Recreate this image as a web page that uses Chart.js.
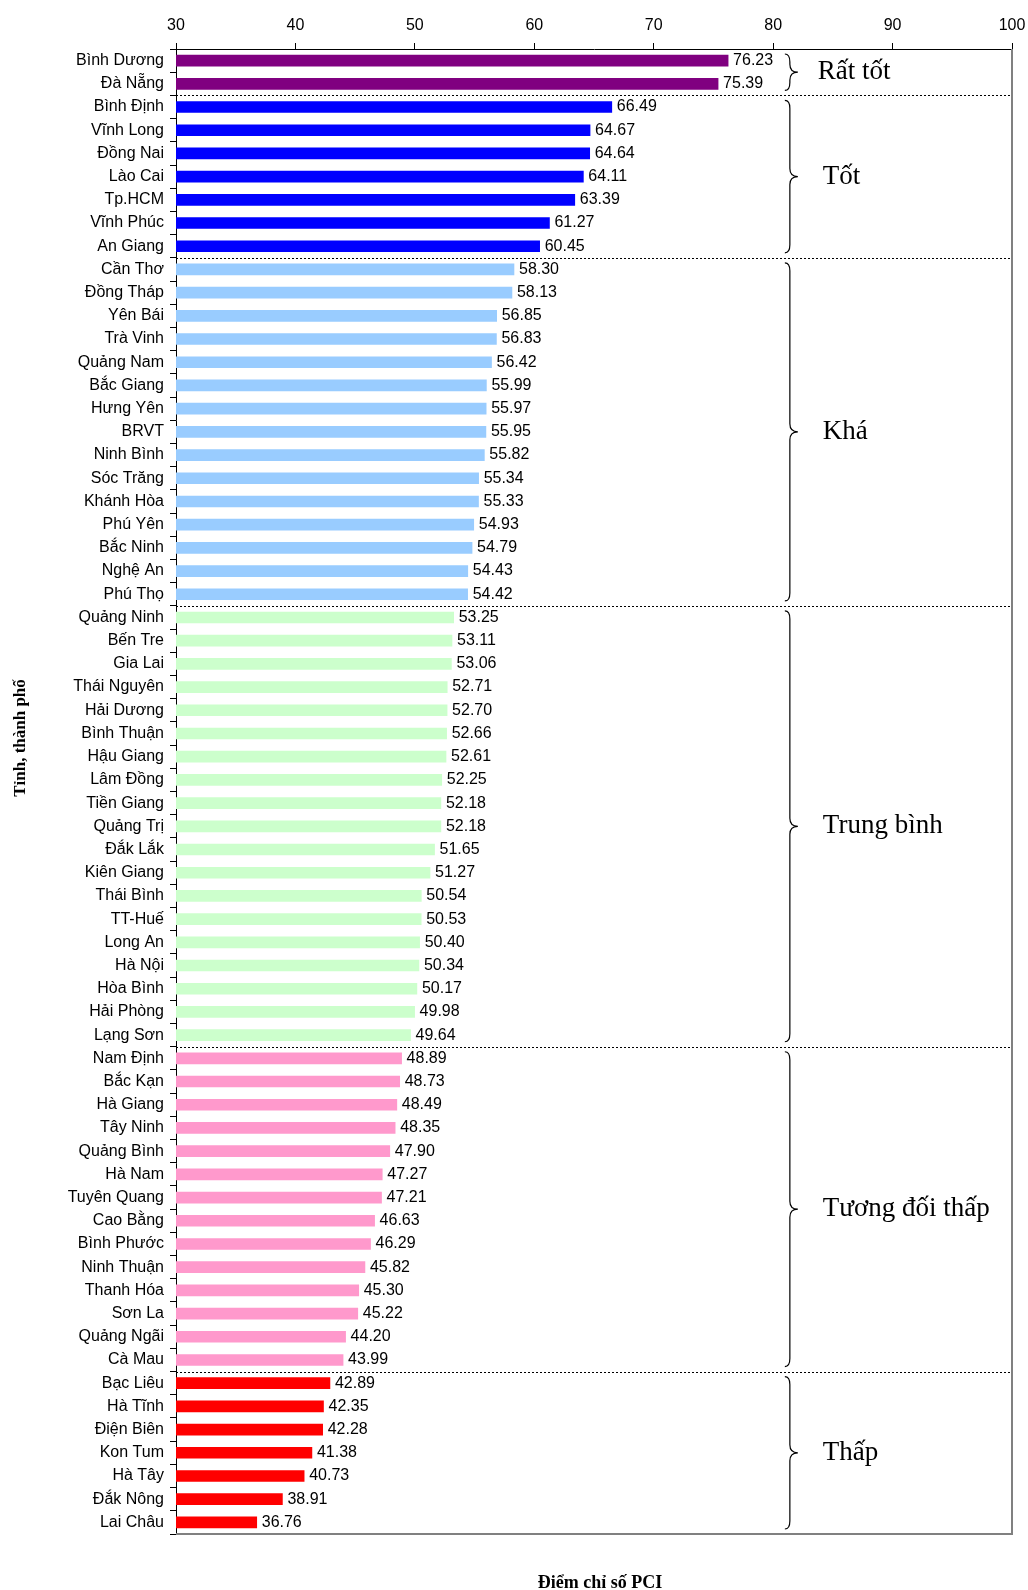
<!DOCTYPE html>
<html>
<head>
<meta charset="utf-8">
<script src="https://cdn.jsdelivr.net/npm/chart.js@4.4.1/dist/chart.umd.min.js"></script>
<style>
  body { margin: 0; background: #fff; }
  #wrap { width: 1028px; height: 1590px; position: relative; }
</style>
</head>
<body>
<div id="wrap"><canvas id="pci"></canvas></div>
<script>
var provinces = [
  "Bình Dương", "Đà Nẵng",
  "Bình Định", "Vĩnh Long", "Đồng Nai", "Lào Cai", "Tp.HCM", "Vĩnh Phúc", "An Giang",
  "Cần Thơ", "Đồng Tháp", "Yên Bái", "Trà Vinh", "Quảng Nam", "Bắc Giang", "Hưng Yên", "BRVT",
  "Ninh Bình", "Sóc Trăng", "Khánh Hòa", "Phú Yên", "Bắc Ninh", "Nghệ An", "Phú Thọ",
  "Quảng Ninh", "Bến Tre", "Gia Lai", "Thái Nguyên", "Hải Dương", "Bình Thuận", "Hậu Giang",
  "Lâm Đồng", "Tiền Giang", "Quảng Trị", "Đắk Lắk", "Kiên Giang", "Thái Bình", "TT-Huế",
  "Long An", "Hà Nội", "Hòa Bình", "Hải Phòng", "Lạng Sơn",
  "Nam Định", "Bắc Kạn", "Hà Giang", "Tây Ninh", "Quảng Bình", "Hà Nam", "Tuyên Quang",
  "Cao Bằng", "Bình Phước", "Ninh Thuận", "Thanh Hóa", "Sơn La", "Quảng Ngãi", "Cà Mau",
  "Bạc Liêu", "Hà Tĩnh", "Điện Biên", "Kon Tum", "Hà Tây", "Đắk Nông", "Lai Châu"
];

var scores = [
  76.23, 75.39,
  66.49, 64.67, 64.64, 64.11, 63.39, 61.27, 60.45,
  58.30, 58.13, 56.85, 56.83, 56.42, 55.99, 55.97, 55.95,
  55.82, 55.34, 55.33, 54.93, 54.79, 54.43, 54.42,
  53.25, 53.11, 53.06, 52.71, 52.70, 52.66, 52.61,
  52.25, 52.18, 52.18, 51.65, 51.27, 50.54, 50.53,
  50.40, 50.34, 50.17, 49.98, 49.64,
  48.89, 48.73, 48.49, 48.35, 47.90, 47.27, 47.21,
  46.63, 46.29, 45.82, 45.30, 45.22, 44.20, 43.99,
  42.89, 42.35, 42.28, 41.38, 40.73, 38.91, 36.76
];

var groupNames = ["Rất tốt", "Tốt", "Khá", "Trung bình", "Tương đối thấp", "Thấp"];
var groupSizes = [2, 7, 15, 19, 14, 7];
var xTicks = [30, 40, 50, 60, 70, 80, 90, 100];

var groupColors = ["#800080", "#0000ff", "#99ccff", "#ccffcc", "#ff99cc", "#ff0000"];

// group index for each bar
var groupOf = [];
groupSizes.forEach(function(n, g) {
  for (var i = 0; i < n; i++) groupOf.push(g);
});
var barColors = groupOf.map(function(g) { return groupColors[g]; });

function drawBrace(ctx, x, y1, y2) {
  var ym = (y1 + y2) / 2;
  var r = Math.min(8, (y2 - y1) / 4);
  ctx.beginPath();
  ctx.moveTo(x - 5, y1);
  ctx.quadraticCurveTo(x, y1, x, y1 + r);
  ctx.lineTo(x, ym - r);
  ctx.quadraticCurveTo(x, ym, x + 8, ym);
  ctx.quadraticCurveTo(x, ym, x, ym + r);
  ctx.lineTo(x, y2 - r);
  ctx.quadraticCurveTo(x, y2, x - 5, y2);
  ctx.stroke();
}

var extras = {
  id: 'extras',
  afterDatasetsDraw: function(chart) {
    var ctx = chart.ctx;
    var xs = chart.scales.x, ys = chart.scales.y;
    var area = chart.chartArea;
    var step = (area.bottom - area.top) / provinces.length;

    // value labels
    ctx.save();
    ctx.fillStyle = '#000';
    ctx.font = '16px "Liberation Sans", Arial, sans-serif';
    ctx.textAlign = 'left';
    ctx.textBaseline = 'middle';
    scores.forEach(function(v, i) {
      ctx.fillText(v.toFixed(2), xs.getPixelForValue(v) + 5, ys.getPixelForValue(i));
    });
    ctx.restore();

    // dotted separators, braces and group labels
    ctx.save();
    var start = 0;
    groupSizes.forEach(function(n, g) {
      var top = ys.getPixelForValue(start) - step / 2;
      var bot = ys.getPixelForValue(start + n - 1) + step / 2;
      if (g > 0) {
        ctx.save();
        ctx.strokeStyle = '#000';
        ctx.lineWidth = 1;
        ctx.setLineDash([2, 2]);
        ctx.beginPath();
        ctx.moveTo(area.left, Math.round(top) + 0.5);
        ctx.lineTo(area.right, Math.round(top) + 0.5);
        ctx.stroke();
        ctx.restore();
      }
      var bx = xs.getPixelForValue(81.4);
      ctx.strokeStyle = '#000';
      ctx.lineWidth = 1.2;
      drawBrace(ctx, bx, top + 5, bot - 5);
      ctx.fillStyle = '#000';
      ctx.font = '27px "Liberation Serif", "Times New Roman", serif';
      ctx.textAlign = 'left';
      ctx.textBaseline = 'middle';
      ctx.fillText(groupNames[g], bx + (g === 0 ? 28 : 33), (top + bot) / 2);
      start += n;
    });
    ctx.restore();

    // right and bottom frame
    ctx.save();
    ctx.strokeStyle = '#808080';
    ctx.lineWidth = 2;
    ctx.beginPath();
    ctx.moveTo(area.right, area.top);
    ctx.lineTo(area.right, area.bottom);
    ctx.lineTo(area.left, area.bottom);
    ctx.stroke();
    ctx.restore();

    // axis titles
    ctx.save();
    ctx.fillStyle = '#000';
    ctx.font = 'bold 18px "Liberation Serif", "Times New Roman", serif';
    ctx.textAlign = 'center';
    ctx.textBaseline = 'middle';
    ctx.fillText('Điểm chỉ số PCI', 600, 1583);
    ctx.translate(21, 738);
    ctx.rotate(-Math.PI / 2);
    ctx.font = 'bold 17px "Liberation Serif", "Times New Roman", serif';
    ctx.fillText('Tỉnh, thành phố', 0, 0);
    ctx.restore();
  }
};

new Chart(document.getElementById('pci'), {
  type: 'bar',
  data: {
    labels: provinces,
    datasets: [{
      data: scores,
      backgroundColor: barColors,
      borderWidth: 0,
      barThickness: 11
    }]
  },
  options: {
    indexAxis: 'y',
    responsive: true,
    maintainAspectRatio: false,
    animation: false,
    layout: { padding: { left: 0, top: 0, right: 16, bottom: 56 } },
    plugins: {
      legend: { display: false },
      tooltip: { enabled: false }
    },
    scales: {
      x: {
        position: 'top',
        min: xTicks[0],
        max: xTicks[xTicks.length - 1],
        afterBuildTicks: function(scale) {
          scale.ticks = xTicks.map(function(v) { return { value: v }; });
        },
        afterFit: function(scale) {
          scale.height = 49;
          scale.paddingLeft = 0;
          scale.paddingRight = 0;
        },
        grid: { drawOnChartArea: false, drawTicks: true, tickLength: 6, color: '#000' },
        border: { display: true, color: '#000', width: 1 },
        ticks: {
          color: '#000',
          padding: 8,
          font: { family: '"Liberation Sans", Arial, sans-serif', size: 16 }
        }
      },
      y: {
        offset: true,
        afterFit: function(scale) {
          scale.width = 176;
          scale.paddingTop = 0;
          scale.paddingBottom = 0;
        },
        grid: { offset: true, drawOnChartArea: false, drawTicks: true, tickLength: 6, color: '#000' },
        border: { display: true, color: '#000', width: 1 },
        ticks: {
          color: '#000',
          padding: 6,
          autoSkip: false,
          font: { family: '"Liberation Sans", Arial, sans-serif', size: 16 }
        }
      }
    }
  },
  plugins: [extras]
});
</script>
</body>
</html>
